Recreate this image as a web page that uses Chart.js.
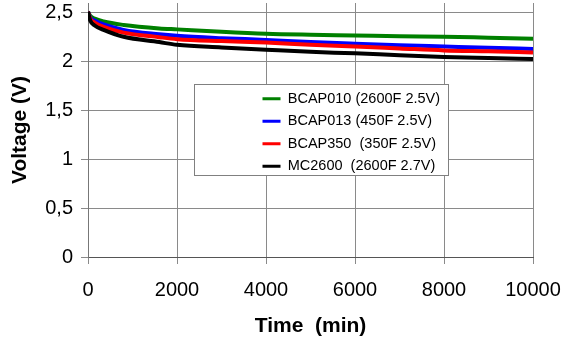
<!DOCTYPE html>
<html><head><meta charset="utf-8">
<script src="https://cdn.jsdelivr.net/npm/chart.js@4/dist/chart.umd.min.js"></script>
<style>html,body{margin:0;padding:0;background:#fff;overflow:hidden}</style>
</head><body>
<canvas id="c" width="562" height="347"></canvas>
<script>
// ---- data ----
const timeMin = [0, 50, 150, 350, 800, 1600, 2000, 3000, 4000, 5000, 6000, 7000, 8000, 9000, 10000];
const seriesLabels = ['BCAP010 (2600F 2.5V)', 'BCAP013 (450F 2.5V)', 'BCAP350  (350F 2.5V)', 'MC2600  (2600F 2.7V)'];
const bcap010 = [2.51, 2.47, 2.44, 2.41, 2.375, 2.34, 2.33, 2.305, 2.285, 2.275, 2.268, 2.26, 2.255, 2.245, 2.235];
const bcap013 = [2.51, 2.45, 2.42, 2.38, 2.325, 2.28, 2.264, 2.24, 2.222, 2.20, 2.183, 2.168, 2.155, 2.142, 2.13];
const bcap350 = [2.51, 2.44, 2.40, 2.355, 2.297, 2.25, 2.23, 2.21, 2.195, 2.172, 2.155, 2.135, 2.115, 2.105, 2.094];
const mc2600  = [2.51, 2.42, 2.37, 2.325, 2.254, 2.20, 2.172, 2.145, 2.122, 2.10, 2.085, 2.065, 2.048, 2.037, 2.027];
const xTickValues = [0, 2000, 4000, 6000, 8000, 10000];
const yTickValues = [0, 0.5, 1, 1.5, 2, 2.5];

const seriesValues = [bcap010, bcap013, bcap350, mc2600];
const seriesColors = ['#008000', '#0000ff', '#ff0000', '#000000'];
const FONT = '"Liberation Sans", Arial, sans-serif';

const datasets = seriesValues.map((vals, i) => ({
  label: seriesLabels[i],
  data: timeMin.map((t, k) => ({x: t, y: vals[k]})),
  borderColor: seriesColors[i],
  backgroundColor: seriesColors[i],
  borderWidth: 4,
  pointRadius: 0,
  cubicInterpolationMode: 'monotone',
  order: seriesValues.length - i
}));

// legend frame placement inside the plot (in axis units)
const legendFrame = {x0: 2390, x1: 8100, yTop: 1.768, yBottom: 0.844, inset: 60};

const legendBoxPlugin = {
  id: 'legendBox',
  afterLayout(chart) {
    const lg = chart.legend;
    if (!lg) return;
    const xs = chart.scales.x, ys = chart.scales.y;
    const L = Math.round(xs.getPixelForValue(legendFrame.x0)) + 0.5;
    const R = Math.round(xs.getPixelForValue(legendFrame.x1)) + 0.5;
    const T = Math.round(ys.getPixelForValue(legendFrame.yTop)) + 0.5;
    const B = Math.round(ys.getPixelForValue(legendFrame.yBottom)) + 0.5;
    lg._frame = {L, R, T, B};
    lg.left = L + legendFrame.inset;
    lg.right = R;
    lg.width = R - lg.left;
    lg.top = T - 1;
    lg.bottom = chart.chartArea.bottom;
    lg.height = lg.bottom - lg.top;
    if (!lg._wrapped) {
      lg._wrapped = true;
      const proto = Object.getPrototypeOf(lg);
      lg.draw = function () {
        const f = this._frame, ctx = this.ctx;
        ctx.save();
        ctx.fillStyle = '#ffffff';
        ctx.fillRect(f.L, f.T, f.R - f.L, f.B - f.T);
        ctx.strokeStyle = '#808080';
        ctx.lineWidth = 1;
        ctx.strokeRect(f.L, f.T, f.R - f.L, f.B - f.T);
        ctx.restore();
        proto.draw.call(this);
      };
    }
  }
};

new Chart(document.getElementById('c'), {
  type: 'line',
  data: {datasets},
  plugins: [legendBoxPlugin],
  options: {
    responsive: false,
    animation: false,
    devicePixelRatio: 1,
    layout: {padding: 0},
    plugins: {
      tooltip: {enabled: false},
      legend: {
        display: true,
        position: 'chartArea',
        align: 'start',
        labels: {
          font: {family: FONT, size: 14.5},
          color: '#000',
          boxWidth: 18,
          boxHeight: 3,
          padding: 8,
          sort: (a, b) => a.datasetIndex - b.datasetIndex,
          generateLabels: (chart) => {
            const items = Chart.defaults.plugins.legend.labels.generateLabels(chart);
            items.forEach(it => { it.lineWidth = 0; });
            return items;
          }
        }
      }
    },
    scales: {
      x: {
        type: 'linear',
        min: 0, max: 10000,
        afterBuildTicks: (s) => { s.ticks = xTickValues.map(v => ({value: v})); },
        afterFit: (s) => { s.height = 90; s.paddingRight = 29; s.paddingLeft = 0; },
        ticks: {
          font: {family: FONT, size: 20},
          color: '#000',
          padding: 14,
          maxRotation: 0,
          callback: (v) => String(v)
        },
        grid: {color: '#8a8a8a', lineWidth: 1, tickLength: 7, tickColor: '#8a8a8a'},
        border: {display: true, color: '#555'},
        title: {
          display: true,
          text: 'Time  (min)',
          font: {family: FONT, size: 21, weight: 'bold'},
          color: '#000',
          padding: {top: 0, bottom: 8}
        }
      },
      y: {
        type: 'linear',
        min: 0, max: 2.6,
        afterBuildTicks: (s) => { s.ticks = yTickValues.map(v => ({value: v})); },
        afterFit: (s) => { s.width = 88; s.paddingTop = 3; s.paddingBottom = 0; },
        ticks: {
          font: {family: FONT, size: 20},
          color: '#000',
          padding: 8,
          callback: (v) => String(v).replace('.', ',')
        },
        grid: {color: '#8a8a8a', lineWidth: 1, tickLength: 7, tickColor: '#8a8a8a'},
        border: {display: true, color: '#777'},
        title: {
          display: true,
          text: 'Voltage (V)',
          font: {family: FONT, size: 21, weight: 'bold'},
          color: '#000',
          padding: {top: 8, bottom: 0}
        }
      }
    }
  }
});
</script>
</body></html>
